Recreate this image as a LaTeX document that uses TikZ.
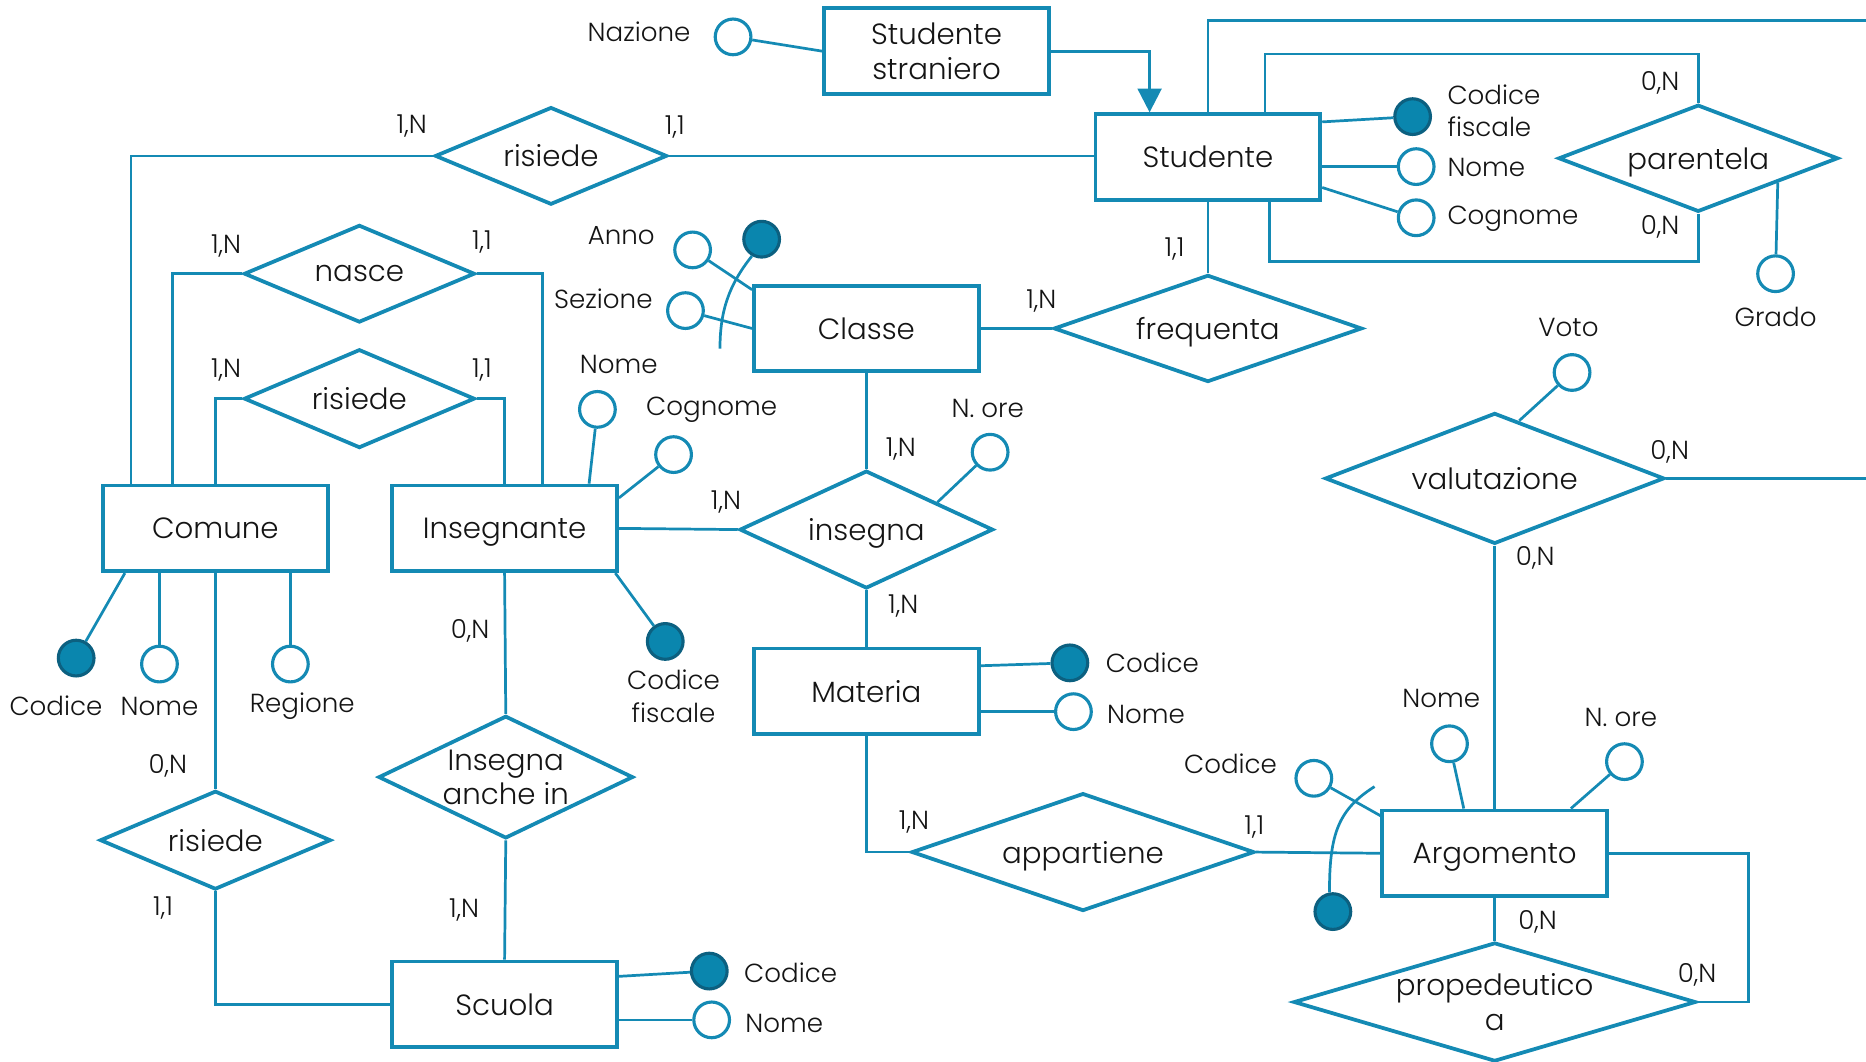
\documentclass[tikz,border=0pt]{standalone}
\usepackage{fontspec}
\setmainfont{Poppins}[UprightFont=* Light]
\usetikzlibrary{arrows.meta,calc,positioning,shapes.geometric}
\definecolor{erblue}{RGB}{20,138,180}
\definecolor{erfill}{RGB}{10,134,174}
\definecolor{erdark}{RGB}{12,96,128}
\definecolor{erink}{RGB}{20,20,20}
\newcommand{\ername}{\fontsize{14}{16.5}\selectfont}
\newcommand{\erlabel}{\fontsize{12.5}{15.4}\selectfont}

\begin{document}
\begin{tikzpicture}[x=0.02cm, y=-0.02cm,
  entity/.style={draw=erblue, line width=1.8pt, minimum width=3.78cm, minimum height=1.44cm,
    inner sep=0pt, align=center, text depth=0pt, text=erink, font=\ername},
  relation/.style 2 args={diamond, draw=erblue, line width=1.8pt, inner sep=0pt, align=center,
    text depth=0pt, text=erink, font=\ername, minimum width=#1*0.02cm, minimum height=#2*0.02cm,
    aspect/.evaluated={#1/#2}},
  attr/.style={circle, draw=erblue, line width=1.5pt, fill=white, minimum size=0.6cm, inner sep=0pt},
  keyattr/.style={attr, draw=erdark, fill=erfill},
  txt/.style={inner sep=0pt, text=erink, font=\erlabel, align=left},
  link/.style={draw=erblue, line width=1.3pt}]
   \path[use as bounding box] (0,0) rectangle (1568,892);

   % entities
   \node[entity] (stra) at (787,43) {Studente\\straniero};
   \node[entity] (stud) at (1015,132) {Studente};
   \node[entity] (classe) at (728,276) {Classe};
   \node[entity] (comune) at (181,444) {Comune};
   \node[entity] (insegnante) at (424,444) {Insegnante};
   \node[entity] (materia) at (728,581) {Materia};
   \node[entity] (scuola) at (424,844) {Scuola};
   \node[entity] (argomento) at (1256,717) {Argomento};

   % relationships
   \node[relation={195}{82}] (risA) at (463,131) {risiede};
   \node[relation={194}{82}] (nasce) at (302,230) {nasce};
   \node[relation={194}{83}] (risB) at (302,335) {risiede};
   \node[relation={259}{90}] (frequenta) at (1015,276) {frequenta};
   \node[relation={213}{99}] (insegna) at (728,445) {insegna};
   \node[relation={235}{90}] (parentela) at (1427,133) {parentela};
   \node[relation={285}{110}] (valutazione) at (1256,402) {valutazione};
   \node[relation={194}{83}] (risC) at (181,706) {risiede};
   \node[relation={214}{103}] (anche) at (425,653) {Insegna\\anche in};
   \node[relation={288}{99}] (appartiene) at (910,716) {appartiene};
   \node[relation={338}{100}] (prop) at (1256,842) {propedeutico\\a};

   % attributes
   \node[attr] (naz) at (616,31) {};
   \node[txt] (naz-l) at (537,27) {Nazione};
   \node[keyattr] (scf) at (1187,98) {};
   \node[txt, anchor=west] (scf-l) at (1216,93) {Codice\\fiscale};
   \node[attr] (snome) at (1190,140) {};
   \node[txt, anchor=west] (snome-l) at (1216,141) {Nome};
   \node[attr] (scog) at (1190,183) {};
   \node[txt, anchor=west] (scog-l) at (1216,184) {Cognome};
   \node[attr] (grado) at (1492,230) {};
   \node[txt] (grado-l) at (1492,266) {Grado};
   \node[attr] (anno) at (582,210) {};
   \node[txt] (anno-l) at (522,198) {Anno};
   \node[keyattr] (ckey) at (640,201) {};
   \node[attr] (sez) at (576,261) {};
   \node[txt] (sez-l) at (507,251) {Sezione};
   \node[attr] (inome) at (502,344) {};
   \node[txt] (inome-l) at (520,306) {Nome};
   \node[attr] (icog) at (566,382) {};
   \node[txt] (icog-l) at (598,344) {Cognome};
   \node[keyattr] (icf) at (559,539) {};
   \node[txt, align=center] (icf-l) at (566,585) {Codice\\fiscale};
   \node[attr] (nore) at (832,380) {};
   \node[txt] (nore-l) at (830,343) {N. ore};
   \node[keyattr] (ccod) at (64,553) {};
   \node[txt] (ccod-l) at (47,593) {Codice};
   \node[attr] (cnome) at (134,558) {};
   \node[txt] (cnome-l) at (134,594) {Nome};
   \node[attr] (creg) at (244,558) {};
   \node[txt] (creg-l) at (254,593) {Regione};
   \node[keyattr] (scod) at (596,816) {};
   \node[txt, anchor=west] (scod-l) at (625,817) {Codice};
   \node[attr] (scnome) at (598,857) {};
   \node[txt, anchor=west] (scnome-l) at (626,860) {Nome};
   \node[keyattr] (mcod) at (899,557) {};
   \node[txt, anchor=west] (mcod-l) at (929,557) {Codice};
   \node[attr] (mnome) at (902,598) {};
   \node[txt, anchor=west] (mnome-l) at (930,600) {Nome};
   \node[attr] (voto) at (1321,313) {};
   \node[txt] (voto-l) at (1318,275) {Voto};
   \node[attr] (acod) at (1104,654) {};
   \node[txt] (acod-l) at (1034,642) {Codice};
   \node[keyattr] (akey) at (1120,766) {};
   \node[attr] (anome) at (1218,625) {};
   \node[txt] (anome-l) at (1211,587) {Nome};
   \node[attr] (aore) at (1365,640) {};
   \node[txt] (aore-l) at (1362,603) {N. ore};

   % free ends
   \coordinate (offA) at (1568,17);
   \coordinate (offB) at (1568,402);
   \coordinate (cend) at (605,293);
   \coordinate (aend) at (1155,661);

   % connectors
   \draw[link] (naz) -- (stra.west);
   \draw[link, -{Triangle[length=0.4cm, width=0.4cm]}] (stra.east) -| ($(stud.north)+(-49,0)$);
   \draw[link] (stud.north) |- (offA);
   \draw[link] ($(stud.north)+(48,0)$) |- ($(parentela.north)+(0,-41)$) -- (parentela.north);
   \draw[link] (parentela.south) -- ++(0,40) -| ($(stud.south)+(52,0)$);
   \draw[link] ($(stud.north east)+(0,8)$) -- (scf);
   \draw[link] (stud.east |- snome) -- (snome);
   \draw[link] ($(stud.south east)+(0,-12)$) -- (scog);
   \draw[link] (parentela.-17) -- (grado);
   \draw[link] (risA.east) -- (stud.west |- risA.east);
   \draw[link] (risA.west) -| ($(comune.north)+(-71,0)$);
   \draw[link] (nasce.west) -| ($(comune.north)+(-36,0)$);
   \draw[link] (nasce.east) -| ($(insegnante.north)+(32,0)$);
   \draw[link] (risB.west) -| (comune.north);
   \draw[link] (risB.east) -| (insegnante.north);
   \draw[link] (anno) -- ($(classe.north west)+(0,5)$);
   \draw[link] (sez) -- (classe.west);
   \draw[link] (ckey.240) .. controls (612,240) and (605,262) .. (cend);
   \draw[link] (classe.east) -- (frequenta.west);
   \draw[link] (frequenta.north) -- (stud.south);
   \draw[link] (classe.south) -- (insegna.north);
   \draw[link] (insegnante.east) -- (insegna.west);
   \draw[link] (insegna.south) -- (materia.north);
   \draw[link] (insegna.21) -- (nore);
   \draw[link] ($(insegnante.north)+(71,0)$) -- (inome);
   \draw[link] ($(insegnante.north east)+(0,12)$) -- (icog);
   \draw[link] ($(insegnante.south east)+(-3,0)$) -- (icf);
   \draw[link] ($(comune.south west)+(20,0)$) -- (ccod);
   \draw[link] (comune.south -| cnome) -- (cnome);
   \draw[link] (comune.south -| creg) -- (creg);
   \draw[link] (comune.south) -- (risC.north);
   \draw[link] (risC.south) |- (scuola.west);
   \draw[link] (insegnante.south) -- (anche.north);
   \draw[link] (anche.south) -- (scuola.north);
   \draw[link] ($(scuola.north east)+(0,14)$) -- (scod);
   \draw[link] (scuola.east |- scnome) -- (scnome);
   \draw[link] ($(materia.north east)+(0,16)$) -- (mcod);
   \draw[link] (materia.east |- mnome) -- (mnome);
   \draw[link] (materia.south) |- (appartiene.west);
   \draw[link] (appartiene.east) -- (argomento.west);
   \draw[link] (acod) -- ($(argomento.north west)+(0,6)$);
   \draw[link] (akey.100) .. controls (1117,700) and (1125,680) .. (aend);
   \draw[link] ($(argomento.north)+(-26,0)$) -- (anome);
   \draw[link] ($(argomento.north)+(64,0)$) -- (aore);
   \draw[link] (valutazione.south) -- (argomento.north);
   \draw[link] (valutazione.east) -- (offB);
   \draw[link] (valutazione.67) -- (voto);
   \draw[link] (argomento.south) -- (prop.north);
   \draw[link] (argomento.east) -- ++(117,0) |- (prop.east);

   % cardinalities
   \node[txt] (risA-n) at (346,106) {1,N};
   \node[txt] (risA-1) at (567,107) {1,1};
   \node[txt] (nasce-n) at (190,207) {1,N};
   \node[txt] (nasce-1) at (405,203) {1,1};
   \node[txt] (risB-n) at (190,311) {1,N};
   \node[txt] (risB-1) at (405,311) {1,1};
   \node[txt] (freq-n) at (875,253) {1,N};
   \node[txt] (freq-1) at (987,209) {1,1};
   \node[txt] (ins-a) at (757,377) {1,N};
   \node[txt] (ins-b) at (610,422) {1,N};
   \node[txt] (ins-c) at (759,509) {1,N};
   \node[txt] (par-a) at (1395,70) {0,N};
   \node[txt] (par-b) at (1395,191) {0,N};
   \node[txt] (val-a) at (1403,380) {0,N};
   \node[txt] (val-b) at (1290,469) {0,N};
   \node[txt] (risC-n) at (141,644) {0,N};
   \node[txt] (risC-1) at (137,763) {1,1};
   \node[txt] (anche-a) at (395,530) {0,N};
   \node[txt] (anche-b) at (390,765) {1,N};
   \node[txt] (app-n) at (768,691) {1,N};
   \node[txt] (app-1) at (1054,695) {1,1};
   \node[txt] (prop-a) at (1292,775) {0,N};
   \node[txt] (prop-b) at (1426,819) {0,N};
\end{tikzpicture}
\end{document}
